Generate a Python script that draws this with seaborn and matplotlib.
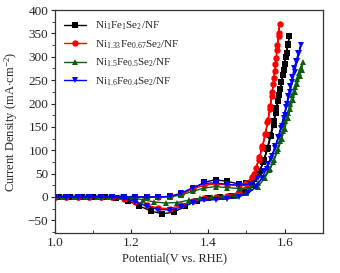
import pandas as pd
import matplotlib.pyplot as plt
import seaborn as sns
from matplotlib.ticker import MultipleLocator

# CV loops (forward scan then reverse scan)
e_black = [1.00, 1.03, 1.06, 1.09, 1.12, 1.15, 1.18, 1.21, 1.24, 1.27, 1.30, 1.33, 1.36, 1.39, 1.42,
           1.45, 1.48, 1.50, 1.52, 1.535, 1.547, 1.556, 1.564, 1.571, 1.577, 1.583, 1.589, 1.595,
           1.600, 1.605, 1.609, 1.612,
           1.608, 1.603, 1.597, 1.591, 1.585, 1.578, 1.571, 1.563, 1.554, 1.544, 1.532, 1.515, 1.49,
           1.46, 1.43, 1.40, 1.37, 1.34, 1.31, 1.28, 1.25, 1.22, 1.19, 1.16, 1.13, 1.10, 1.07, 1.04, 1.01]
j_black = [0, 0, 0, 0, 0, 0, 0, 0, 0, 0, 1, 6, 18, 31, 37,
           33, 28, 29, 38, 55, 80, 105, 130, 155, 180, 205, 232, 260,
           285, 308, 328, 344,
           325, 300, 272, 245, 218, 190, 162, 133, 103, 75, 50, 25, 10,
           2, -1, -3, -8, -20, -33, -36, -30, -19, -8, -2, 0, 0, 0, 0, 0]

e_red = [1.00, 1.03, 1.06, 1.09, 1.12, 1.15, 1.18, 1.21, 1.24, 1.27, 1.30, 1.33, 1.36, 1.39, 1.42,
         1.45, 1.48, 1.50, 1.515, 1.525, 1.534, 1.542, 1.549, 1.555, 1.561, 1.566, 1.570, 1.574,
         1.578, 1.581, 1.584, 1.587,
         1.584, 1.580, 1.576, 1.572, 1.568, 1.563, 1.557, 1.550, 1.542, 1.532, 1.52, 1.505, 1.48,
         1.45, 1.42, 1.39, 1.36, 1.33, 1.30, 1.27, 1.24, 1.21, 1.18, 1.15, 1.12, 1.09, 1.06, 1.03, 1.00]
j_red = [0, 0, 0, 0, 0, 0, 0, 0, 0, 0, 1, 6, 17, 25, 28,
         26, 25, 30, 43, 62, 85, 110, 135, 160, 188, 215, 242, 270,
         298, 325, 350, 370,
         345, 315, 285, 255, 225, 195, 165, 135, 105, 78, 50, 26, 10,
         2, -1, -3, -9, -18, -25, -24, -18, -10, -4, -1, 0, 0, 0, 0, 0]

e_green = [1.00, 1.03, 1.06, 1.09, 1.12, 1.15, 1.18, 1.21, 1.24, 1.27, 1.30, 1.33, 1.36, 1.39, 1.42,
           1.45, 1.48, 1.51, 1.53, 1.545, 1.560, 1.570, 1.580, 1.588, 1.595, 1.602, 1.608, 1.614,
           1.620, 1.626, 1.632, 1.637, 1.642, 1.648,
           1.644, 1.639, 1.633, 1.627, 1.621, 1.615, 1.608, 1.600, 1.592, 1.583, 1.573, 1.562, 1.548,
           1.53, 1.50, 1.47, 1.44, 1.41, 1.38, 1.35, 1.32, 1.29, 1.26, 1.23, 1.20, 1.17, 1.14, 1.11,
           1.08, 1.05, 1.02]
j_green = [0, 0, 0, 0, 0, 0, 0, 0, 0, 0, 0, 4, 12, 19, 22,
           20, 18, 20, 30, 42, 58, 75, 98, 120, 142, 163, 180, 200,
           218, 236, 252, 265, 277, 289,
           272, 258, 242, 225, 207, 188, 168, 146, 124, 102, 80, 60, 40,
           22, 8, 2, 0, -1, -3, -7, -12, -13, -11, -6, -2, 0, 0, 0,
           0, 0, 0]

e_blue = [1.00, 1.03, 1.06, 1.09, 1.12, 1.15, 1.18, 1.21, 1.24, 1.27, 1.30, 1.33, 1.36, 1.39, 1.42,
          1.45, 1.48, 1.51, 1.53, 1.545, 1.556, 1.566, 1.575, 1.583, 1.590, 1.597, 1.603, 1.609,
          1.615, 1.620, 1.625, 1.630, 1.636, 1.642,
          1.638, 1.632, 1.626, 1.620, 1.614, 1.607, 1.600, 1.592, 1.584, 1.575, 1.565, 1.553, 1.540,
          1.525, 1.505, 1.48, 1.45, 1.42, 1.39, 1.36, 1.33, 1.30, 1.27, 1.24, 1.21, 1.18, 1.15, 1.12,
          1.09, 1.06, 1.03, 1.00]
j_blue = [0, 0, 0, 0, 0, 0, 0, 0, 0, 0, 1, 8, 20, 29, 30,
          27, 25, 28, 40, 55, 70, 88, 108, 128, 148, 170, 192, 215,
          237, 256, 275, 292, 308, 325,
          308, 290, 268, 246, 224, 200, 176, 152, 128, 104, 82, 60, 40,
          22, 8, 0, -4, -6, -7, -12, -22, -28, -27, -20, -10, -3, 0, 0,
          0, 0, 0, 0]

labels = [r'Ni$_{1}$Fe$_{1}$Se$_{2}$/NF',
          r'Ni$_{1.33}$Fe$_{0.67}$Se$_{2}$/NF',
          r'Ni$_{1.5}$Fe$_{0.5}$Se$_{2}$/NF',
          r'Ni$_{1.6}$Fe$_{0.4}$Se$_{2}$/NF']

sns.set_style('ticks')
plt.rcParams['font.family'] = ['Liberation Serif', 'DejaVu Serif']
plt.rcParams['mathtext.fontset'] = 'custom'
plt.rcParams['mathtext.rm'] = 'Liberation Serif'
plt.rcParams['mathtext.it'] = 'Liberation Serif:italic'

fig = plt.figure(figsize=(3.4, 2.73), dpi=100)
ax = fig.add_axes([0.161, 0.147, 0.789, 0.816])

series = [(e_black, j_black, 'black', 's'),
          (e_red, j_red, 'red', 'o'),
          (e_green, j_green, '#0b5e0b', '^'),
          (e_blue, j_blue, 'blue', 'v')]
for (e, j, c, m), lab in zip(series, labels):
    df = pd.DataFrame({'E': e, 'j': j})
    sns.lineplot(data=df, x='E', y='j', sort=False, estimator=None, color=c,
                 marker=m, markersize=4.6, markeredgewidth=0, linewidth=1, label=lab, ax=ax)

ax.set_xlim(1.0, 1.7)
ax.set_ylim(-77, 400)
ax.xaxis.set_major_locator(MultipleLocator(0.2))
ax.xaxis.set_minor_locator(MultipleLocator(0.1))
ax.yaxis.set_major_locator(MultipleLocator(50))
ax.yaxis.set_minor_locator(MultipleLocator(25))
ax.tick_params(axis='x', which='both', direction='in', labelsize=9.5, pad=3)
ax.tick_params(axis='x', which='major', length=3)
ax.tick_params(axis='x', which='minor', length=2)
ax.tick_params(axis='y', which='both', direction='out', labelsize=9.5, pad=1.5)
ax.tick_params(axis='y', which='major', length=3)
ax.tick_params(axis='y', which='minor', length=2)
for s in ax.spines.values():
    s.set_color('#333333')
    s.set_linewidth(0.9)

ax.set_xlabel('Potential(V vs. RHE)', fontsize=8.8)
ax.set_ylabel(r'Current Density (mA$\cdot$cm$^{-2}$)', fontsize=9)
ax.xaxis.set_label_coords(0.448, -0.085)
ax.yaxis.set_label_coords(-0.128, 0.5)

ax.legend(loc='upper left', frameon=False, fontsize=8, handlelength=2.0, handletextpad=0.8,
          labelspacing=0.55, borderaxespad=0.45, bbox_to_anchor=(0.0, 1.0))

fig.savefig('out.png', dpi=100)
